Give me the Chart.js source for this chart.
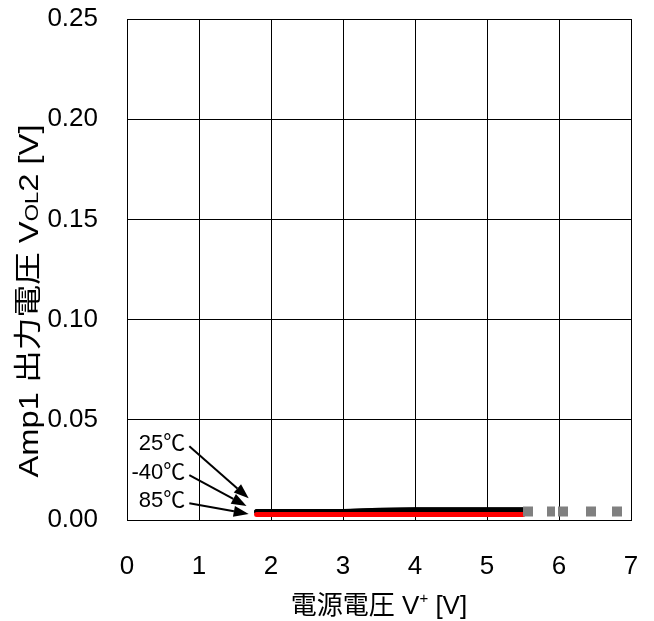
<!DOCTYPE html>
<html>
<head>
<meta charset="utf-8">
<script src="https://cdn.jsdelivr.net/npm/chart.js@4/dist/chart.umd.min.js"></script>
<style>
  html, body { margin: 0; padding: 0; background: #fff; }
  #wrap { width: 654px; height: 621px; }
</style>
</head>
<body>
<div id="wrap"><canvas id="c" width="654" height="621"></canvas></div>
<script>
// Supply voltage sweep (V) and Amp1 low-level output voltage VOL2 (V)
const supply = [1.8, 2.0, 2.5, 3.0, 3.5, 4.0, 4.5, 5.0, 5.5];
const vol25 = [0.0042, 0.0042, 0.0042, 0.0042, 0.0049, 0.0051, 0.0051, 0.0051, 0.0051];
const volM40 = [0.0041, 0.0041, 0.0041, 0.0041, 0.0048, 0.0050, 0.0050, 0.0050, 0.0050];
const vol85 = [0.0027, 0.0027, 0.0027, 0.0027, 0.0027, 0.0027, 0.0027, 0.0027, 0.0027];
// Outside the operating range
const extSupply = [5.5, 7.0];
const extVol = [0.0043, 0.0043];

const tempLabels = ['25℃', '-40℃', '85℃'];
const xMin = 0, xMax = 7, xStep = 1;
const yMin = 0, yMax = 0.25, yStep = 0.05;

const FONT = '"Liberation Sans", Arial, "Noto Sans CJK JP", sans-serif';

function pts(xs, ys) { return xs.map((x, i) => ({ x: x, y: ys[i] })); }

// Draw a run of text pieces with different sizes / baseline shifts, centred on (0,0).
// If a length is given the run is stretched along its direction to that length.
function drawPieces(ctx, pieces, length, baseShift) {
  let total = 0;
  pieces.forEach(p => {
    ctx.font = p.size + 'px ' + FONT;
    p.w = ctx.measureText(p.t).width;
    total += p.w;
  });
  if (length) ctx.scale(length / total, 1);
  let x = -total / 2;
  ctx.textAlign = 'left';
  ctx.textBaseline = 'alphabetic';
  pieces.forEach(p => {
    ctx.font = p.size + 'px ' + FONT;
    ctx.fillText(p.t, x, baseShift + (p.dy || 0));
    x += p.w;
  });
}

function arrow(ctx, x0, y0, x1, y1) {
  const ang = Math.atan2(y1 - y0, x1 - x0);
  const len = 15, half = 5.5;
  const bx = x1 - len * Math.cos(ang), by = y1 - len * Math.sin(ang);
  ctx.beginPath();
  ctx.moveTo(x0, y0);
  ctx.lineTo(bx, by);
  ctx.lineWidth = 2;
  ctx.strokeStyle = '#000';
  ctx.stroke();
  ctx.beginPath();
  ctx.moveTo(x1, y1);
  ctx.lineTo(bx + half * Math.sin(ang), by - half * Math.cos(ang));
  ctx.lineTo(bx - half * Math.sin(ang), by + half * Math.cos(ang));
  ctx.closePath();
  ctx.fillStyle = '#000';
  ctx.fill();
}

const decorations = {
  id: 'decorations',
  afterDraw(chart) {
    const ctx = chart.ctx;
    const xs = chart.scales.x, ys = chart.scales.y;
    const area = chart.chartArea;
    ctx.save();
    ctx.fillStyle = '#000';

    // Axis titles
    ctx.save();
    ctx.translate((area.left + area.right) / 2, 605);
    drawPieces(ctx, [
      { t: '電源電圧 V', size: 26 },
      { t: '+', size: 15, dy: -11 },
      { t: ' [V]', size: 26 }
    ], 0, 9);
    ctx.restore();

    ctx.save();
    ctx.translate(28, 301);
    ctx.rotate(-Math.PI / 2);
    drawPieces(ctx, [
      { t: 'Amp1 出力電圧 V', size: 28 },
      { t: 'OL', size: 19 },
      { t: '2 [V]', size: 28 }
    ], 353, 10);
    ctx.restore();

    // Temperature labels with arrows pointing at the curves
    const tx = xs.getPixelForValue(0.81);
    const labelY = [ys.getPixelForValue(0.0378), ys.getPixelForValue(0.0234), ys.getPixelForValue(0.0094)];
    const tipX = [xs.getPixelForValue(1.69), xs.getPixelForValue(1.66), xs.getPixelForValue(1.69)];
    const tipY = [ys.getPixelForValue(0.0108), ys.getPixelForValue(0.007), ys.getPixelForValue(0.003)];
    ctx.font = '22px ' + FONT;
    ctx.textAlign = 'right';
    ctx.textBaseline = 'middle';
    tempLabels.forEach((t, i) => {
      ctx.fillStyle = '#000';
      ctx.fillText(t, tx, labelY[i]);
      arrow(ctx, tx + 4, labelY[i] + 2, tipX[i], tipY[i]);
    });
    ctx.restore();
  }
};

function noEdgePadding(scale) {
  scale.paddingTop = 0;
  scale.paddingBottom = 0;
  scale.paddingLeft = 0;
  scale.paddingRight = 0;
}

new Chart(document.getElementById('c'), {
  type: 'line',
  data: {
    datasets: [
      {
        label: 'ext',
        data: pts(extSupply, extVol),
        borderColor: '#808080',
        borderWidth: 10,
        borderCapStyle: 'butt',
        borderDash: [10, 14, 8, 3, 10, 18, 10, 16],
        pointRadius: 0,
        order: 0
      },
      {
        label: '85℃',
        data: pts(supply, vol85),
        borderColor: '#ff0000',
        borderWidth: 5,
        borderCapStyle: 'round',
        pointRadius: 0,
        order: 1
      },
      {
        label: '-40℃',
        data: pts(supply, volM40),
        borderColor: '#000000',
        borderWidth: 5,
        borderCapStyle: 'round',
        pointRadius: 0,
        order: 2
      },
      {
        label: '25℃',
        data: pts(supply, vol25),
        borderColor: '#000000',
        borderWidth: 5,
        borderCapStyle: 'round',
        pointRadius: 0,
        order: 3
      }
    ]
  },
  options: {
    responsive: false,
    devicePixelRatio: 1,
    animation: false,
    layout: { padding: { top: 19, right: 23, left: 0, bottom: 0 } },
    plugins: { legend: { display: false }, tooltip: { enabled: false } },
    elements: { line: { tension: 0 } },
    scales: {
      x: {
        type: 'linear',
        min: xMin, max: xMax,
        afterFit(scale) { scale.height = 101; noEdgePadding(scale); },
        grid: { color: '#000', lineWidth: 1, drawTicks: false },
        border: { color: '#000', width: 1 },
        ticks: { stepSize: xStep, padding: 31, color: '#000', font: { family: FONT, size: 26 } }
      },
      y: {
        min: yMin, max: yMax,
        afterFit(scale) { scale.width = 127; noEdgePadding(scale); },
        grid: { color: '#000', lineWidth: 1, drawTicks: false },
        border: { color: '#000', width: 1 },
        ticks: {
          stepSize: yStep, padding: 29, color: '#000',
          font: { family: FONT, size: 26 },
          callback: v => v.toFixed(2)
        }
      }
    }
  },
  plugins: [decorations]
});
</script>
</body>
</html>
